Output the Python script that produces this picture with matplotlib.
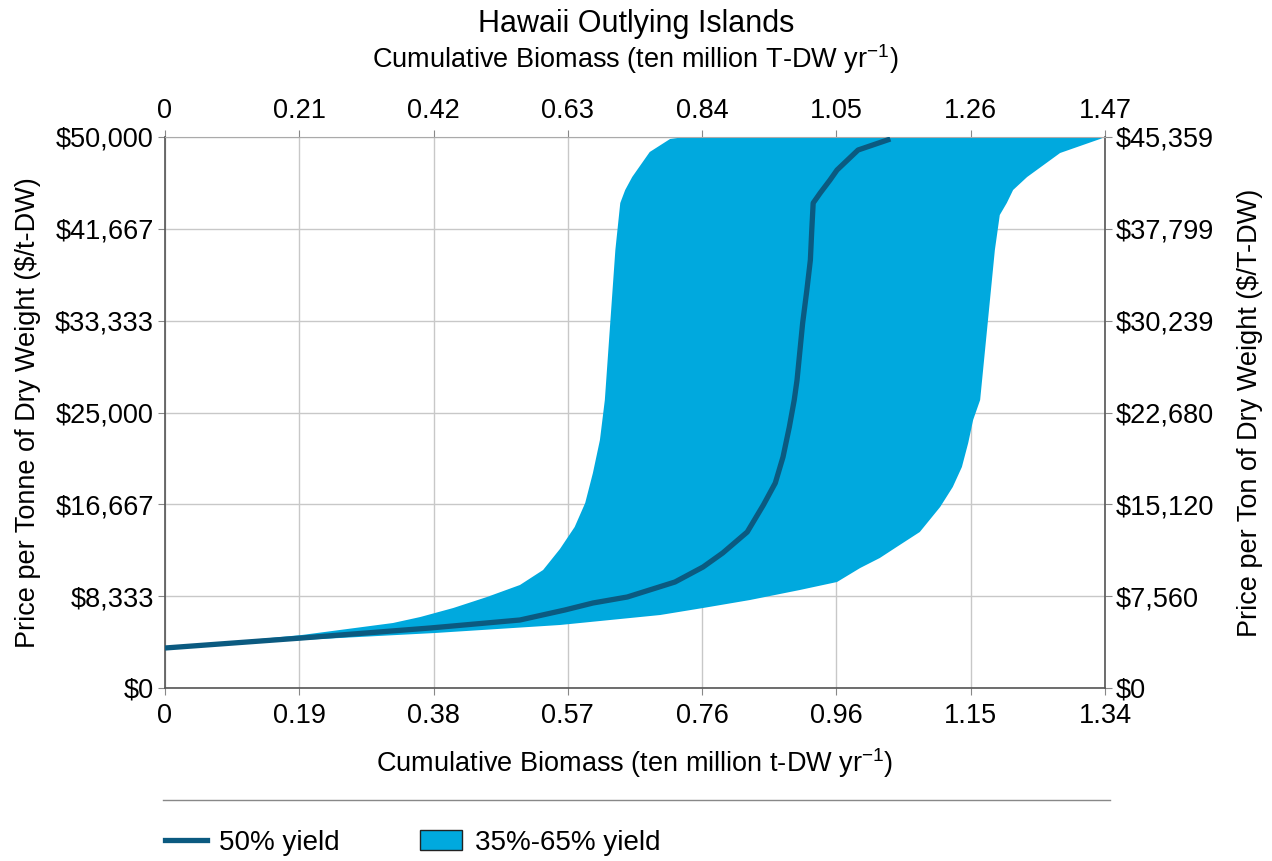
import matplotlib
matplotlib.use('Agg')
import matplotlib.pyplot as plt
from matplotlib.lines import Line2D
from matplotlib.patches import Patch
import numpy as np

plt.rcParams['font.family'] = ['Liberation Sans', 'DejaVu Sans']
plt.rcParams['mathtext.default'] = 'regular'

# --- data ---
# left edge of the 35%-65% band
band_lo_x = [0, 0.195, 0.325, 0.364, 0.411, 0.459, 0.506, 0.539, 0.563, 0.584,
             0.599, 0.610, 0.620, 0.627, 0.634, 0.642, 0.649, 0.656, 0.666,
             0.691, 0.720, 0.741]
band_lo_y = [3630, 4809, 5898, 6443, 7260, 8258, 9347, 10708, 12613, 14610,
             16788, 19510, 22505, 26134, 32486, 39746, 44011, 45190, 46370,
             48639, 49818, 50000]
# right edge of the band
band_hi_x = [0, 0.195, 0.385, 0.563, 0.706, 0.767, 0.834, 0.905, 0.958, 0.991,
             1.019, 1.043, 1.076, 1.105, 1.123, 1.136, 1.145, 1.152, 1.162,
             1.169, 1.176, 1.183, 1.190, 1.200, 1.209, 1.229, 1.276, 1.333, 1.340]
band_hi_y = [3630, 4356, 4991, 5717, 6624, 7260, 7985, 8893, 9619, 10889,
             11797, 12795, 14156, 16425, 18240, 20054, 22232, 24319, 26134,
             30671, 35209, 39746, 42922, 44011, 45190, 46370, 48548, 49818, 50000]
# 50% yield
mid_x = [0, 0.195, 0.378, 0.506, 0.570, 0.610, 0.659, 0.727, 0.767, 0.795,
         0.830, 0.853, 0.870, 0.881, 0.890, 0.897, 0.901, 0.909, 0.915, 0.920,
         0.922, 0.924, 0.934, 0.948, 0.958, 0.988, 1.034]
mid_y = [3630, 4537, 5445, 6171, 7078, 7713, 8258, 9619, 10980, 12250,
         14156, 16606, 18603, 20962, 23684, 26134, 27949, 33122, 36116, 38838,
         41561, 44011, 44918, 46098, 47005, 48820, 49818]

x_max = 1.34
y_max = 50000
x_labels = ['0', '0.19', '0.38', '0.57', '0.76', '0.96', '1.15', '1.34']
y_labels = ['$0', '$8,333', '$16,667', '$25,000', '$33,333', '$41,667', '$50,000']
top_max = 1.47
top_labels = ['0', '0.21', '0.42', '0.63', '0.84', '1.05', '1.26', '1.47']
right_max = 45359
right_labels = ['$0', '$7,560', '$15,120', '$22,680', '$30,239', '$37,799', '$45,359']

BAND = '#00a9de'
LINE = '#0b5a80'
FS = 19.5

fig = plt.figure(figsize=(12.72, 8.61), dpi=100)
ax = fig.add_axes([165/1272, 1-688/861, 940/1272, 551/861])

ax.fill(np.concatenate([band_lo_x, band_hi_x[::-1]]),
        np.concatenate([band_lo_y, band_hi_y[::-1]]),
        color=BAND, lw=0, zorder=2)
ax.plot(mid_x, mid_y, color=LINE, lw=3.8, solid_capstyle='butt',
        solid_joinstyle='round', zorder=3)

ax.set_xlim(0, x_max)
ax.set_ylim(0, y_max)
ax.set_xticks(np.linspace(0, x_max, 8))
ax.set_xticklabels(x_labels)
ax.set_yticks(np.linspace(0, y_max, 7))
ax.set_yticklabels(y_labels)
ax.grid(True, color='#c8c8c8', lw=1)
ax.set_axisbelow(True)
for s in ['left', 'right', 'bottom']:
    ax.spines[s].set_color('#555555')
    ax.spines[s].set_linewidth(1.2)
ax.spines['top'].set_color('#aaaaaa')
ax.tick_params(labelsize=FS, color='#888888', length=5, pad=3)
ax.tick_params(axis='x', pad=6)
ax.set_xlabel('Cumulative Biomass (ten million t-DW yr$^{-1}$)', fontsize=FS, labelpad=12)
ax.set_ylabel('Price per Tonne of Dry Weight ($/t-DW)', fontsize=FS, labelpad=10)

k_x = top_max / x_max
top = ax.secondary_xaxis('top', functions=(lambda v: v * k_x, lambda v: v / k_x))
top.set_xticks(np.linspace(0, top_max, 8))
top.set_xticklabels(top_labels)
top.tick_params(labelsize=FS, color='#888888', length=5, pad=4)
top.spines['top'].set_visible(False)
top.set_xlabel('Cumulative Biomass (ten million T-DW yr$^{-1}$)', fontsize=FS, labelpad=22)

k_y = right_max / y_max
right = ax.secondary_yaxis('right', functions=(lambda v: v * k_y, lambda v: v / k_y))
right.set_yticks(np.linspace(0, right_max, 7))
right.set_yticklabels(right_labels)
right.tick_params(labelsize=FS, color='#888888', length=5, pad=3)
right.spines['right'].set_visible(False)
right.set_ylabel('Price per Ton of Dry Weight ($/T-DW)', fontsize=FS, labelpad=16)

fig.text(0.5, 1-24/861, 'Hawaii Outlying Islands', ha='center', va='center', fontsize=22)

fig.add_artist(Line2D([163/1272, 1110/1272], [1-800/861]*2, transform=fig.transFigure,
                      color='#888888', lw=1))

handles = [Line2D([], [], color=LINE, lw=3.8),
           Patch(facecolor=BAND, edgecolor='#222222', lw=1)]
fig.legend(handles, ['50% yield', '35%-65% yield'], loc='center left',
           bbox_to_anchor=(165/1272, 1-843/861), ncol=2, frameon=False,
           fontsize=20, handlelength=1.5, handleheight=0.75, columnspacing=2.9,
           handletextpad=0.45, borderpad=0, borderaxespad=0)

fig.savefig('out.png', dpi=100, facecolor='white')
